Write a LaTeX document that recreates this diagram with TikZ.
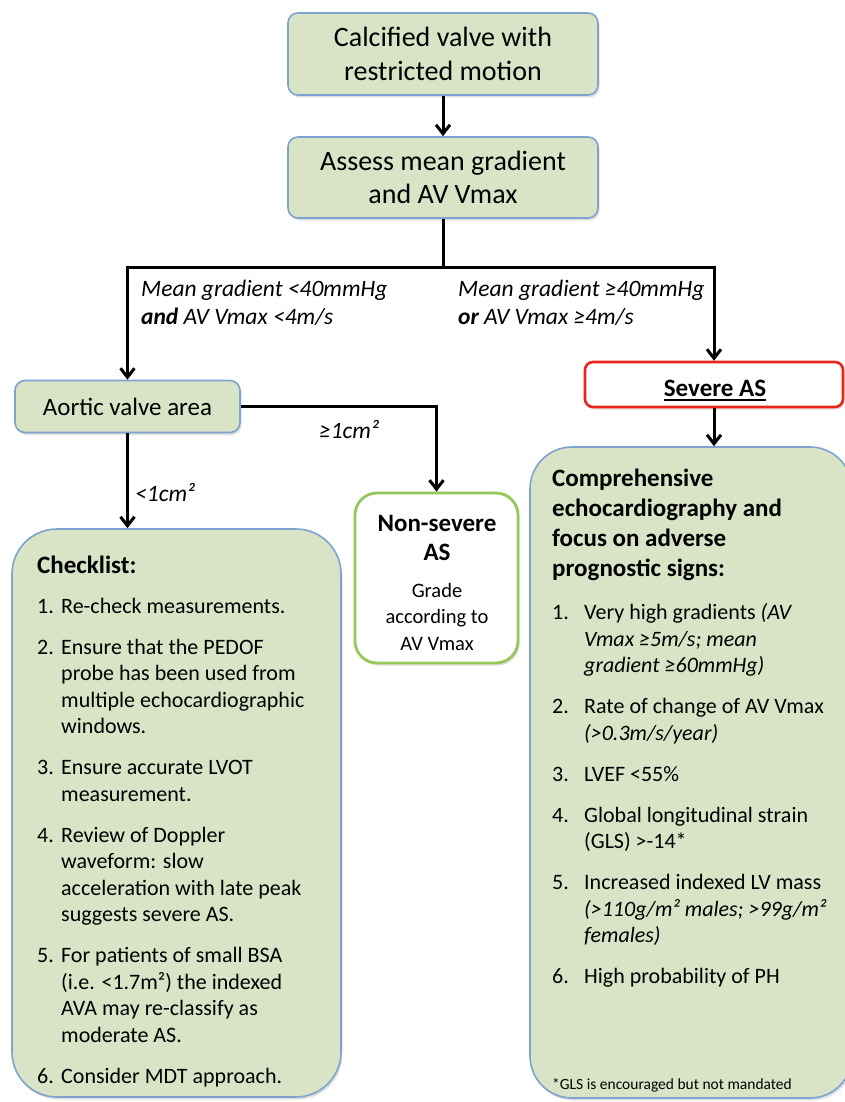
\documentclass[tikz,border=0pt]{standalone}
\usepackage{fontspec}
\setmainfont{Carlito}
\usetikzlibrary{arrows.meta,shadows}
\definecolor{boxfill}{HTML}{D9E4C6}
\definecolor{boxline}{HTML}{7FA3CF}
\definecolor{redline}{HTML}{E8261C}
\definecolor{greenline}{HTML}{95C85A}
\begin{document}
\begin{tikzpicture}[x=1pt,y=-1pt,
  shad/.style={drop shadow={opacity=0.25,shadow xshift=1.5pt,shadow yshift=-2.5pt}},
  box/.style={draw=boxline,line width=1.6pt,fill=boxfill,rounded corners=10pt,shad,inner sep=0pt},
  conn/.style={line width=3pt,black},
  arr/.style={conn,-{Straight Barb[length=9pt,width=14pt]}},
  lbl/.style={inner sep=0pt,font=\fontsize{23.5}{28}\selectfont\itshape},
  txt/.style={inner sep=0pt}]
\useasboundingbox (0,0) rectangle (845,1102);
\fill[white] (0,0) rectangle (845,1102);

% boxes
\node[box,minimum width=310pt,minimum height=82pt,font=\fontsize{28}{33.5}\selectfont,align=center] (b1) at (443,54) {Calcified valve with\\restricted motion};
\node[box,minimum width=310pt,minimum height=81pt,font=\fontsize{28}{33.5}\selectfont,align=center] (b2) at (443,177.5) {Assess mean gradient\\and AV Vmax};
\node[box,minimum width=225pt,minimum height=52pt,font=\fontsize{25}{30}\selectfont] (ava) at (127.5,406.5) {Aortic valve area};
\node[draw=redline,line width=2.6pt,fill=white,rounded corners=8pt,minimum width=258pt,minimum height=45pt,shad] (sev) at (714,384.5) {};
\node[txt,font=\fontsize{25}{30}\selectfont\bfseries] (sevt) at (715,388) {Severe AS};
\draw[line width=1.8pt] ([yshift=-3.5pt]sevt.base west) -- ([yshift=-3.5pt]sevt.base east);
\node[draw=greenline,line width=2.8pt,fill=white,rounded corners=22pt,minimum width=163pt,minimum height=170pt,shad] (ns) at (436.5,578) {};
\node[txt,font=\fontsize{25}{29}\selectfont\bfseries,align=center] (nst) at (437,537.5) {Non-severe\\AS};
\node[txt,font=\fontsize{20.5}{26.5}\selectfont,align=center] (nsb) at (437,616.5) {Grade\\according to\\AV Vmax};
\node[box,rounded corners=45pt,minimum width=329pt,minimum height=568pt] (cl) at (176.5,813) {};
\node[box,rounded corners=42pt,minimum width=322pt,minimum height=651pt] (rb) at (691,772.5) {};

% connectors
\coordinate (j) at (443,267);
\draw[arr] (b1.south) -- (b2.north);
\draw[conn] (b2.south) -- (j);
\draw[arr] (j) -| (ava.north);
\draw[arr] (j) -| (sev.north);
\draw[arr] (ava.east) -| (ns.north);
\draw[arr] (ava.south) -- (ava.south |- cl.north);
\draw[arr] (sev.south) -- (sev.south |- rb.north);

% labels
\node[lbl,anchor=base west] (l1) at (141,296) {\begin{tabular}[t]{@{}l@{}}Mean gradient <40mmHg\\\textbf{and} AV Vmax <4m/s\end{tabular}};
\node[lbl,anchor=base west] (l2) at (458,296) {\begin{tabular}[t]{@{}l@{}}Mean gradient ≥40mmHg\\\textbf{or} AV Vmax ≥4m/s\end{tabular}};
\node[lbl,anchor=base] (l3) at (349,438) {≥1cm²};
\node[lbl,anchor=base west] (l4) at (135,501) {<1cm²};

% checklist text
\node[txt,anchor=base west,font=\fontsize{22}{26.5}\selectfont] (clt) at (37,573) {\begin{tabular}[t]{@{}p{24pt}@{}l@{}}
\multicolumn{2}{@{}l@{}}{\fontsize{25}{30}\selectfont\bfseries Checklist:}\\[13.5pt]
1.&Re-check measurements.\\[14.5pt]
2.&Ensure that the PEDOF\\
&probe has been used from\\
&multiple echocardiographic\\
&windows.\\[14.5pt]
3.&Ensure accurate LVOT\\
&measurement.\\[14.5pt]
4.&Review of Doppler\\
&waveform: slow\\
&acceleration with late peak\\
&suggests severe AS.\\[14.5pt]
5.&For patients of small BSA\\
&(i.e. <1.7m²) the indexed\\
&AVA may re-classify as\\
&moderate AS.\\[14.5pt]
6.&Consider MDT approach.
\end{tabular}};

% right box text
\node[txt,anchor=base west,font=\fontsize{22}{26.5}\selectfont] (rbt) at (552,486) {\begin{tabular}[t]{@{}p{32pt}@{}l@{}}
\multicolumn{2}{@{}l@{}}{\fontsize{25}{30}\selectfont\bfseries Comprehensive}\\[3.5pt]
\multicolumn{2}{@{}l@{}}{\fontsize{25}{30}\selectfont\bfseries echocardiography and}\\[3.5pt]
\multicolumn{2}{@{}l@{}}{\fontsize{25}{30}\selectfont\bfseries focus on adverse}\\[3.5pt]
\multicolumn{2}{@{}l@{}}{\fontsize{25}{30}\selectfont\bfseries prognostic signs:}\\[17pt]
1.&Very high gradients \textit{(AV}\\
&\textit{Vmax ≥5m/s; mean}\\
&\textit{gradient ≥60mmHg)}\\[14.5pt]
2.&Rate of change of AV Vmax\\
&\textit{(>0.3m/s/year)}\\[14.5pt]
3.&LVEF <55\%\\[14.5pt]
4.&Global longitudinal strain\\
&(GLS) >-14*\\[14.5pt]
5.&Increased indexed LV mass\\
&\textit{(>110g/m² males; >99g/m²}\\
&\textit{females)}\\[14.5pt]
6.&High probability of PH
\end{tabular}};
\node[txt,anchor=base west,font=\fontsize{15.5}{18}\selectfont] (fn) at (552,1089) {*GLS is encouraged but not mandated};
\end{tikzpicture}
\end{document}
